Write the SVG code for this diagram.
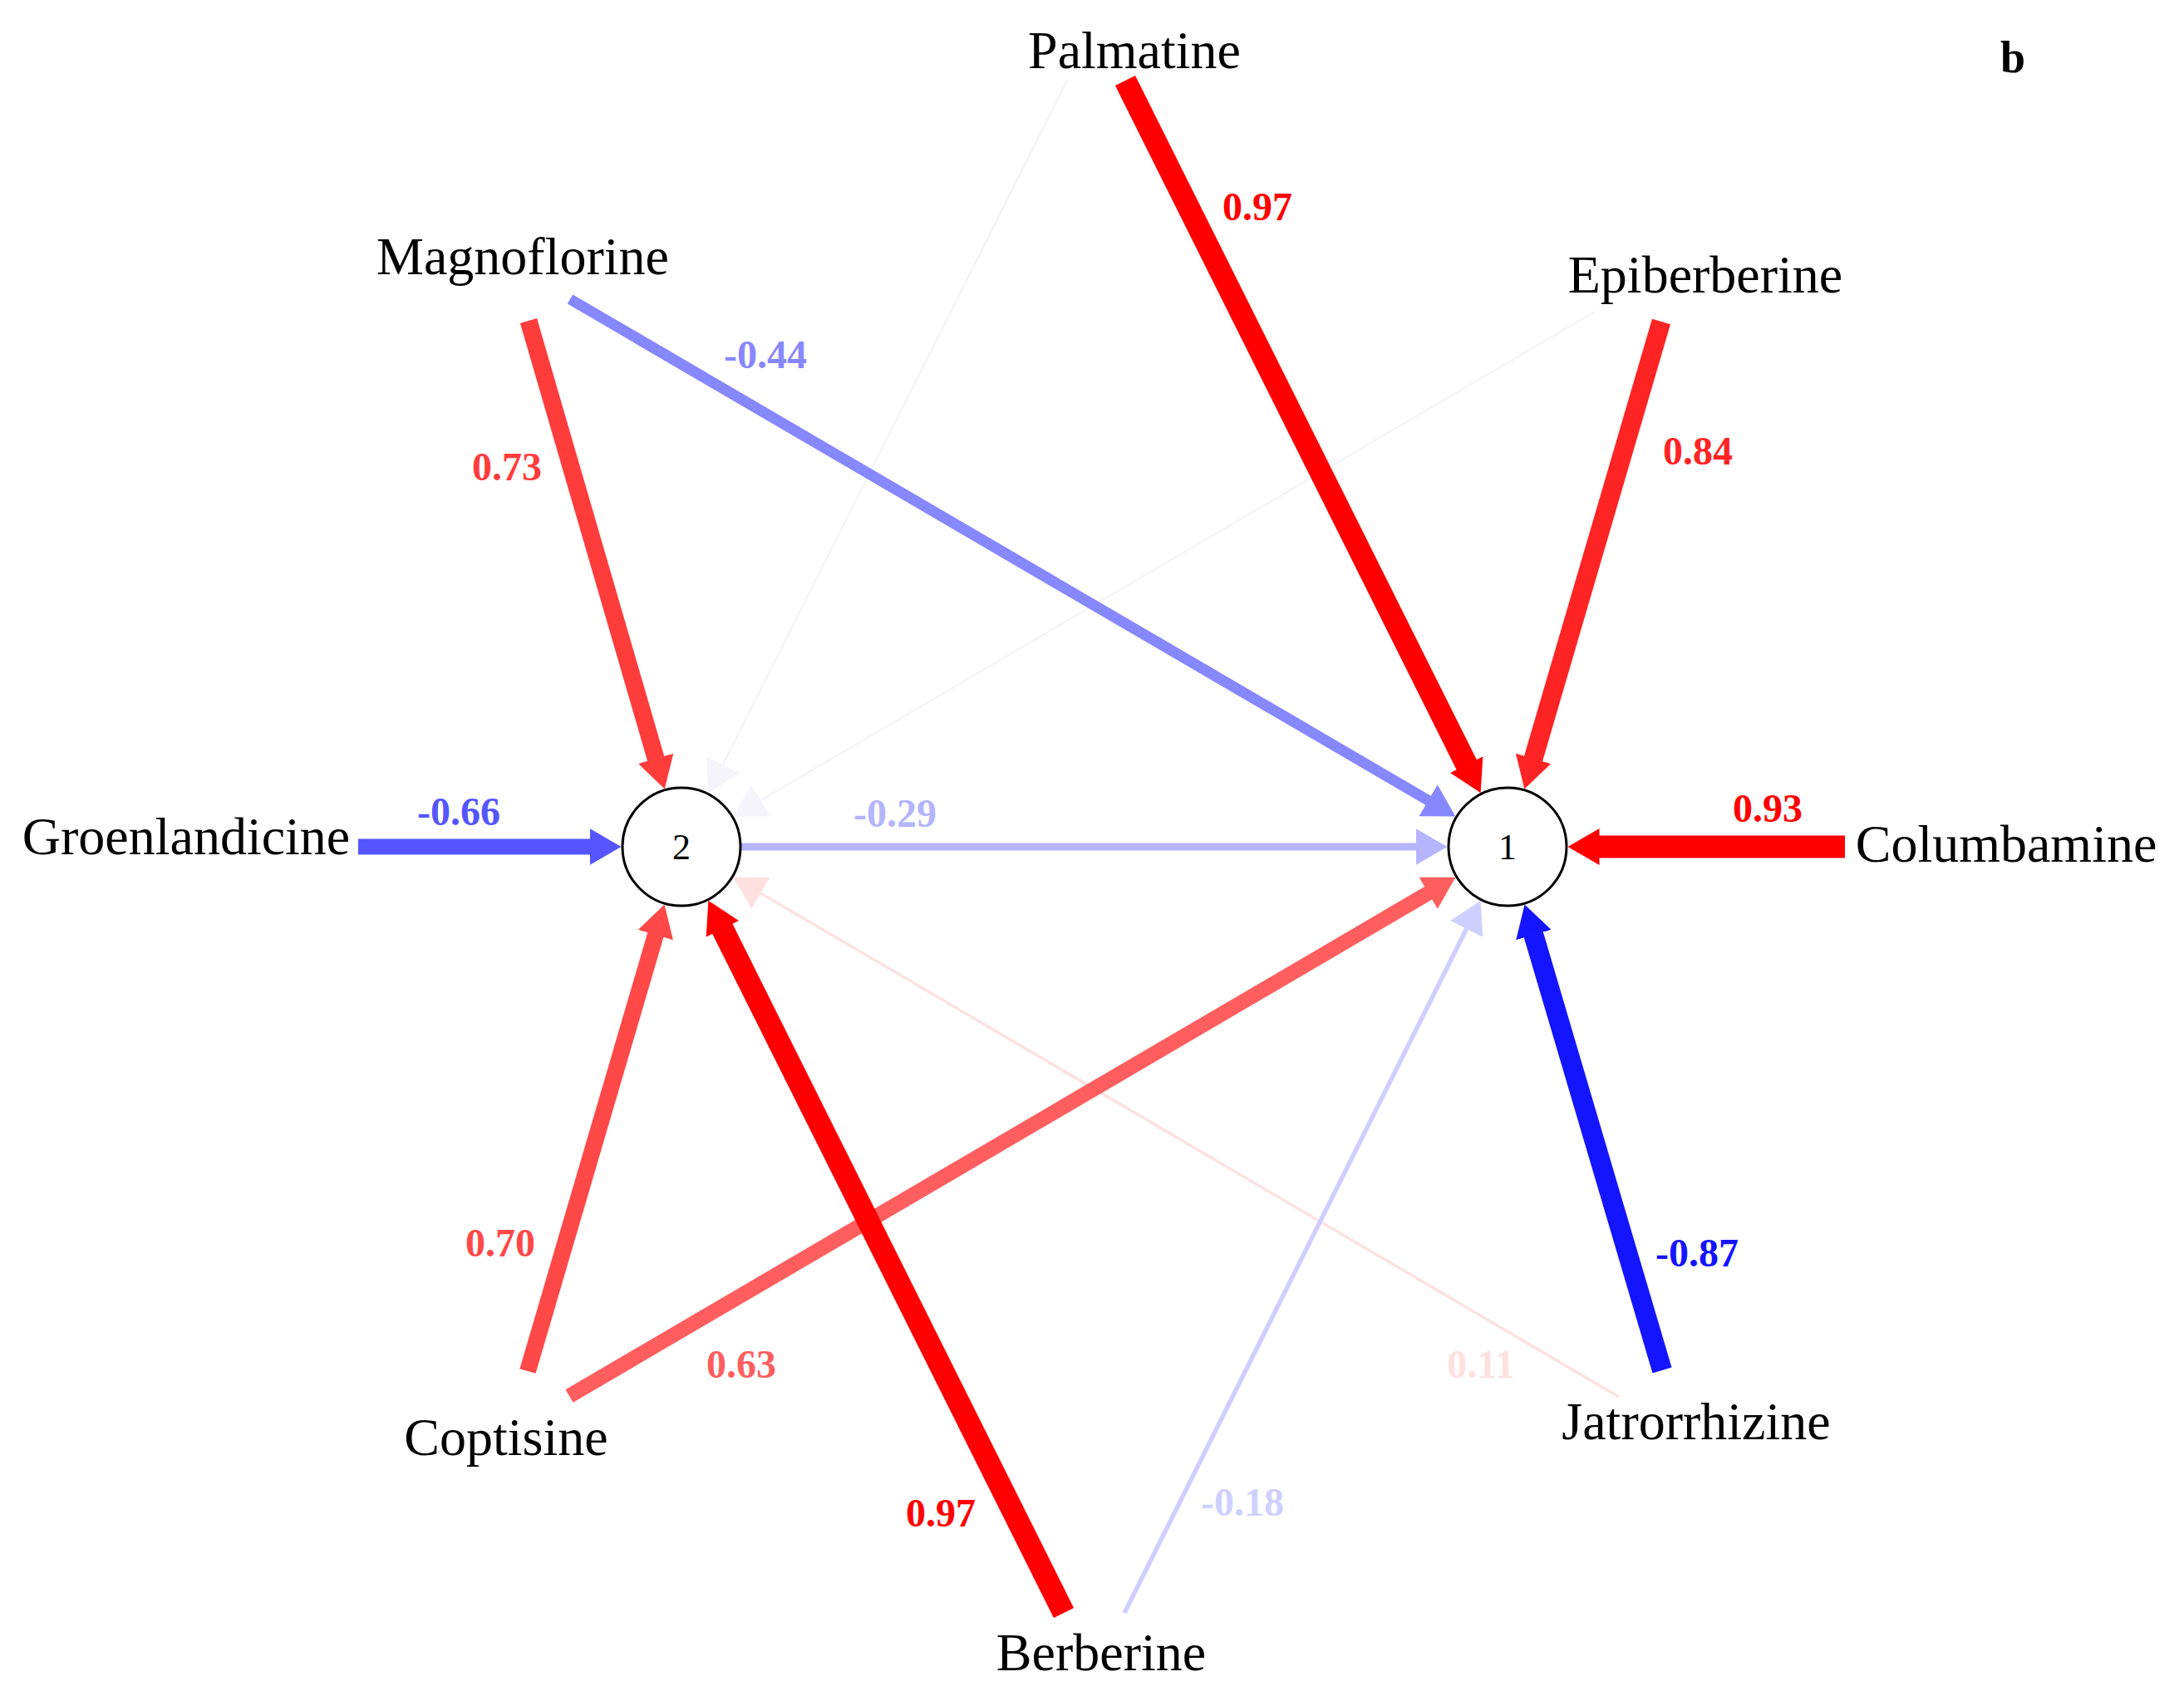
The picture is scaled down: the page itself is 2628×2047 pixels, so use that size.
<svg xmlns="http://www.w3.org/2000/svg" width="2628" height="2047" viewBox="0 0 2628 2047">
<style>
.bg{fill:#ffffff}
.node{fill:#ffffff;stroke:#000000;stroke-width:3}
.name{font-family:"Liberation Serif","Times New Roman",serif;font-size:64px;fill:#000000;text-anchor:middle}
.num{font-family:"Liberation Serif","Times New Roman",serif;font-size:44px;fill:#000000;text-anchor:middle}
.val{font-family:"Liberation Serif","Times New Roman",serif;font-size:48px;font-weight:bold;text-anchor:middle}
.e{fill:none;stroke-linecap:butt}
</style>
<defs>
<marker id="mR0" markerUnits="userSpaceOnUse" markerWidth="38" markerHeight="44" viewBox="0 0 38 44" refX="0.5" refY="22" orient="auto"><path d="M0,0 L38,22 L0,44 z" fill="#FF0000"/></marker>
<marker id="mR84" markerUnits="userSpaceOnUse" markerWidth="38" markerHeight="44" viewBox="0 0 38 44" refX="0.5" refY="22" orient="auto"><path d="M0,0 L38,22 L0,44 z" fill="#FF2424"/></marker>
<marker id="mR73" markerUnits="userSpaceOnUse" markerWidth="38" markerHeight="44" viewBox="0 0 38 44" refX="0.5" refY="22" orient="auto"><path d="M0,0 L38,22 L0,44 z" fill="#FF3C3C"/></marker>
<marker id="mR70" markerUnits="userSpaceOnUse" markerWidth="38" markerHeight="44" viewBox="0 0 38 44" refX="0.5" refY="22" orient="auto"><path d="M0,0 L38,22 L0,44 z" fill="#FF4848"/></marker>
<marker id="mR63" markerUnits="userSpaceOnUse" markerWidth="38" markerHeight="44" viewBox="0 0 38 44" refX="0.5" refY="22" orient="auto"><path d="M0,0 L38,22 L0,44 z" fill="#FF5E5E"/></marker>
<marker id="mR11" markerUnits="userSpaceOnUse" markerWidth="38" markerHeight="44" viewBox="0 0 38 44" refX="0.5" refY="22" orient="auto"><path d="M0,0 L38,22 L0,44 z" fill="#FFE0E0"/></marker>
<marker id="mB87" markerUnits="userSpaceOnUse" markerWidth="38" markerHeight="44" viewBox="0 0 38 44" refX="0.5" refY="22" orient="auto"><path d="M0,0 L38,22 L0,44 z" fill="#1414FF"/></marker>
<marker id="mB66" markerUnits="userSpaceOnUse" markerWidth="38" markerHeight="44" viewBox="0 0 38 44" refX="0.5" refY="22" orient="auto"><path d="M0,0 L38,22 L0,44 z" fill="#5555FF"/></marker>
<marker id="mB44" markerUnits="userSpaceOnUse" markerWidth="38" markerHeight="44" viewBox="0 0 38 44" refX="0.5" refY="22" orient="auto"><path d="M0,0 L38,22 L0,44 z" fill="#8787FF"/></marker>
<marker id="mB29" markerUnits="userSpaceOnUse" markerWidth="38" markerHeight="44" viewBox="0 0 38 44" refX="0.5" refY="22" orient="auto"><path d="M0,0 L38,22 L0,44 z" fill="#B4B4FF"/></marker>
<marker id="mB18" markerUnits="userSpaceOnUse" markerWidth="38" markerHeight="44" viewBox="0 0 38 44" refX="0.5" refY="22" orient="auto"><path d="M0,0 L38,22 L0,44 z" fill="#CFCFFF"/></marker>
<marker id="mF1" markerUnits="userSpaceOnUse" markerWidth="38" markerHeight="44" viewBox="0 0 38 44" refX="0.5" refY="22" orient="auto"><path d="M0,0 L38,22 L0,44 z" fill="#F4F4FA"/></marker>
</defs>
<rect class="bg" x="0" y="0" width="2628" height="2047"/>

<g id="connectors">
  <path id="e-palmatine-2" class="e" d="M1284,97 L869.5,920.8" stroke="#F4F4F8" stroke-width="2.5" marker-end="url(#mF1)"/>
  <path id="e-epiberberine-2" class="e" d="M1919,375 L914.9,963.4" stroke="#F4F4F8" stroke-width="2.5" marker-end="url(#mF1)"/>
  <path id="e-jatrorrhizine-2" class="e" d="M1948,1681 L914.9,1074.6" stroke="#FFE0E0" stroke-width="3.3" marker-end="url(#mR11)"/>
  <path id="e-berberine-1" class="e" d="M1353,1941 L1764.8,1117.4" stroke="#CFCFFF" stroke-width="5.5" marker-end="url(#mB18)"/>
  <path id="e-2-1" class="e" d="M892,1019 L1704,1019" stroke="#B4B4FF" stroke-width="9" marker-end="url(#mB29)"/>
  <path id="e-magnoflorine-1" class="e" d="M686,360 L1719,963.5" stroke="#8787FF" stroke-width="13" marker-end="url(#mB44)"/>
  <path id="e-coptisine-1" class="e" d="M685,1680 L1719.1,1074.6" stroke="#FF5E5E" stroke-width="18" marker-end="url(#mR63)"/>
  <path id="e-groenlandicine-2" class="e" d="M431,1019 L710,1019" stroke="#5555FF" stroke-width="19" stroke-linecap="round" marker-end="url(#mB66)"/>
  <path id="e-coptisine-2" class="e" d="M635,1650 L789,1124.6" stroke="#FF4848" stroke-width="20" marker-end="url(#mR70)"/>
  <path id="e-magnoflorine-2" class="e" d="M636,386 L789.3,913.4" stroke="#FF3C3C" stroke-width="21" marker-end="url(#mR73)"/>
  <path id="e-epiberberine-1" class="e" d="M1999,387 L1844.9,913.4" stroke="#FF2424" stroke-width="23" marker-end="url(#mR84)"/>
  <path id="e-jatrorrhizine-1" class="e" d="M2000,1649 L1845.2,1124.5" stroke="#1414FF" stroke-width="24" marker-end="url(#mB87)"/>
  <path id="e-columbamine-1" class="e" d="M2220,1019 L1924,1019" stroke="#FF0000" stroke-width="27" stroke-linecap="round" marker-end="url(#mR0)"/>
  <path id="e-palmatine-1" class="e" d="M1354,97 L1764.9,920.6" stroke="#FF0000" stroke-width="27" marker-end="url(#mR0)"/>
  <path id="e-berberine-2" class="e" d="M1280,1941 L869.1,1117.4" stroke="#FF0000" stroke-width="27" marker-end="url(#mR0)"/>

  <text class="val" x="1513" y="265" fill="#FF0000">0.97</text>
  <text class="val" x="921" y="443" fill="#8787FF">-0.44</text>
  <text class="val" x="2043" y="559" fill="#FF2424">0.84</text>
  <text class="val" x="610" y="578" fill="#FF3C3C">0.73</text>
  <text class="val" x="552" y="993" fill="#5555FF">-0.66</text>
  <text class="val" x="1077" y="995" fill="#B4B4FF">-0.29</text>
  <text class="val" x="2127" y="989" fill="#FF0000">0.93</text>
  <text class="val" x="602" y="1512" fill="#FF4848">0.70</text>
  <text class="val" x="892" y="1658" fill="#FF5E5E">0.63</text>
  <text class="val" x="1132" y="1837" fill="#FF0000">0.97</text>
  <text class="val" x="1495" y="1824" fill="#CFCFFF">-0.18</text>
  <text class="val" x="2042" y="1524" fill="#1414FF">-0.87</text>
  <text class="val" x="1782" y="1658" fill="#FFE0E0">0.11</text>
</g>

<g id="node-2">
  <circle class="node" cx="820" cy="1019" r="71"/>
  <text class="num" x="820" y="1034">2</text>
</g>
<g id="node-1">
  <circle class="node" cx="1814" cy="1019" r="71"/>
  <text class="num" x="1814" y="1034">1</text>
</g>
<g id="node-palmatine"><text class="name" x="1365" y="82">Palmatine</text></g>
<g id="node-magnoflorine"><text class="name" x="629" y="330">Magnoflorine</text></g>
<g id="node-epiberberine"><text class="name" x="2052" y="352">Epiberberine</text></g>
<g id="node-groenlandicine"><text class="name" x="224" y="1028">Groenlandicine</text></g>
<g id="node-columbamine"><text class="name" x="2414" y="1037">Columbamine</text></g>
<g id="node-coptisine"><text class="name" x="609" y="1751">Coptisine</text></g>
<g id="node-berberine"><text class="name" x="1325" y="2010">Berberine</text></g>
<g id="node-jatrorrhizine"><text class="name" x="2041" y="1732">Jatrorrhizine</text></g>
<text x="2422" y="87" font-family="Liberation Serif, Times New Roman, serif" font-size="54" font-weight="bold" text-anchor="middle" fill="#000000">b</text>
</svg>
